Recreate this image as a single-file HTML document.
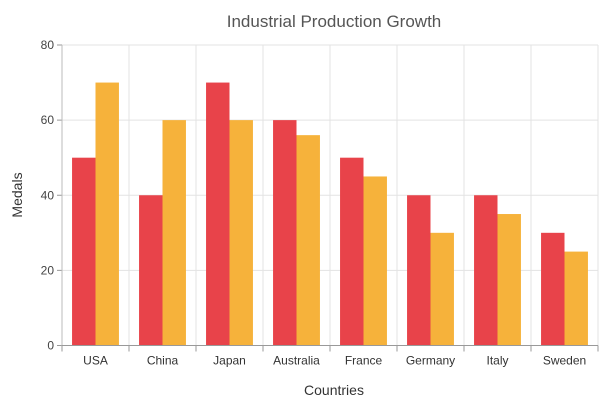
<!DOCTYPE html>
<html><head><meta charset="utf-8"><style>
body{margin:0;background:#fff;}
svg{display:block;font-family:"Liberation Sans",sans-serif;}
</style></head><body>
<svg id="c" width="616" height="404">
<text x="334" y="27" text-anchor="middle" font-size="17" fill="#555">Industrial Production Growth</text>
<text x="334" y="395" text-anchor="middle" font-size="14" fill="#333">Countries</text>
<text transform="translate(22,195) rotate(-90)" text-anchor="middle" font-size="14" fill="#333">Medals</text>
</svg>
<script>
const categories=["USA","China","Japan","Australia","France","Germany","Italy","Sweden"];
const series1=[50,40,70,60,50,40,40,30];
const series2=[70,60,60,56,45,30,35,25];
const yTicks=[0,20,40,60,80];
const svg=document.getElementById('c');const NS='http://www.w3.org/2000/svg';
const L=62,R=598,T=45,B=345.5,YMAX=80;
const y=v=>B-(v/YMAX)*(B-T);
const cw=(R-L)/categories.length;
const x=i=>L+i*cw;
function mk(t,a,p){const e=document.createElementNS(NS,t);for(const k in a)e.setAttribute(k,a[k]);(p||svg).appendChild(e);return e;}
yTicks.forEach(v=>{
 if(v>0){const g=mk('line',{x1:L,x2:R,y1:y(v),y2:y(v),stroke:'#e3e3e3'});
 
 }
 const tk=mk('line',{x1:L-5,x2:L,y1:y(v),y2:y(v),stroke:'#999'});
 
 
 const t=mk('text',{x:L-8,y:y(v)+4,'text-anchor':'end','font-size':12,fill:'#444'});t.textContent=v;
 
 
});
for(let i=1;i<=categories.length;i++){
 const g=mk('line',{x1:x(i),x2:x(i),y1:T,y2:B,stroke:'#e3e3e3'});
 
 
}
for(let i=0;i<=categories.length;i++){
 const tk=mk('line',{x1:x(i),x2:x(i),y1:B,y2:B+6,stroke:'#999'});
 
 
}
const bw=cw*0.35;
categories.forEach((c,i)=>{
 const cx=x(i)+cw/2;
 const b1=mk('rect',{x:cx-bw,y:y(series1[i]),width:bw,height:B-y(series1[i]),fill:'#e8434a'});
 
 
 const b2=mk('rect',{x:cx,y:y(series2[i]),width:bw,height:B-y(series2[i]),fill:'#f6b23b'});
 
 
 const t=mk('text',{x:cx,y:B+19,'text-anchor':'middle','font-size':12,fill:'#333'});t.textContent=c;
 
 
});
const ax=mk('line',{x1:L,x2:L,y1:T,y2:B,stroke:'#bbb'});


const bx=mk('line',{x1:L,x2:R,y1:B,y2:B,stroke:'#999'});


</script>
</body></html>
